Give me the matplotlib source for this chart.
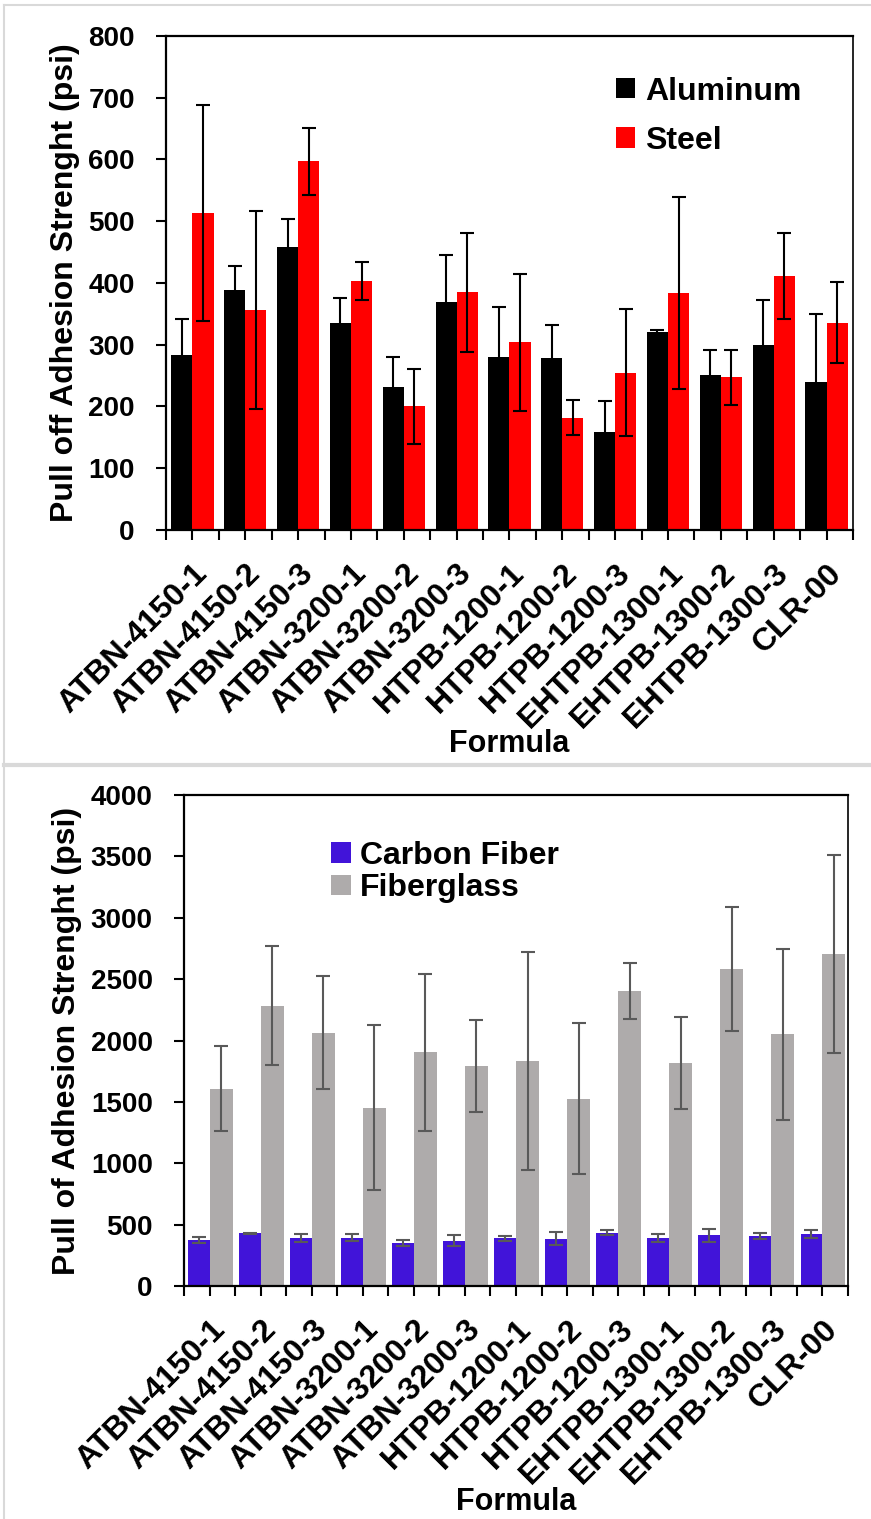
import numpy as np
import matplotlib
matplotlib.use("Agg")
import matplotlib.pyplot as plt
from matplotlib.lines import Line2D

plt.rcParams['font.family'] = ['Liberation Sans', 'DejaVu Sans']
plt.rcParams['font.weight'] = 'bold'

formulas = ['ATBN-4150-1', 'ATBN-4150-2', 'ATBN-4150-3', 'ATBN-3200-1',
            'ATBN-3200-2', 'ATBN-3200-3', 'HTPB-1200-1', 'HTPB-1200-2',
            'HTPB-1200-3', 'EHTPB-1300-1', 'EHTPB-1300-2', 'EHTPB-1300-3',
            'CLR-00']

# metal substrates (psi)
aluminum = [284, 389, 459, 335, 232, 369, 280, 279, 158, 321, 251, 300, 240]
aluminum_err = [57, 39, 44, 41, 48, 76, 81, 53, 51, 3, 40, 73, 109]
steel = [513, 356, 597, 403, 200, 385, 304, 182, 255, 384, 247, 411, 336]
steel_err = [175, 160, 54, 31, 61, 96, 111, 28, 103, 156, 45, 70, 66]

# composite substrates (psi)
carbon_fiber = [375, 429, 388, 394, 353, 369, 388, 386, 434, 394, 415, 407, 424]
carbon_fiber_err = [22, 5, 32, 31, 25, 45, 18, 54, 19, 33, 53, 27, 30]
fiberglass = [1608, 2284, 2064, 1453, 1904, 1792, 1830, 1526, 2406, 1817,
              2585, 2050, 2705]
fiberglass_err = [349, 487, 460, 673, 642, 376, 889, 615, 229, 376, 504, 694, 804]

x = np.arange(len(formulas))

fig = plt.figure(figsize=(8.71, 15.19), dpi=100)
ax1 = fig.add_axes([0.1906, 0.6511, 0.7887, 0.3252])
ax2 = fig.add_axes([0.2113, 0.1534, 0.7623, 0.3232])

# panel frames
frame = '#d9d9d9'
fig.add_artist(Line2D([0.005, 0.005], [0, 0.997], color=frame, lw=1.5,
                      transform=fig.transFigure))
fig.add_artist(Line2D([0.005, 1], [0.997, 0.997], color=frame, lw=1.5,
                      transform=fig.transFigure))
fig.add_artist(Line2D([0.005, 1], [0.4965, 0.4965], color=frame, lw=3,
                      transform=fig.transFigure))

# top chart: aluminum / steel
ax1.bar(x - 0.2, aluminum, 0.4, color='black', label='Aluminum',
        yerr=aluminum_err, error_kw=dict(ecolor='black', elinewidth=1.5,
                                         capsize=5, capthick=1.5))
ax1.bar(x + 0.2, steel, 0.4, color='#ff0000', label='Steel',
        yerr=steel_err, error_kw=dict(ecolor='black', elinewidth=1.5,
                                      capsize=5, capthick=1.5))
ax1.set_ylim(0, 800)
ax1.set_yticks(range(0, 801, 100))
ax1.set_ylabel('Pull off Adhesion Strenght (psi)', fontsize=23,
               fontweight='bold', labelpad=6)
ax1.legend(loc='upper left', bbox_to_anchor=(0.655, 0.918), frameon=False,
           fontsize=23, handlelength=0.6, handleheight=0.6,
           handletextpad=0.3, labelspacing=0.6, borderpad=0,
           borderaxespad=0)
ax1.xaxis.set_label_coords(0.5, -0.403)

# bottom chart: carbon fiber / fiberglass
ax2.bar(x - 0.215, carbon_fiber, 0.43, color='#4114d9', label='Carbon Fiber',
        yerr=carbon_fiber_err, error_kw=dict(ecolor='#595959', elinewidth=1.5,
                                             capsize=5, capthick=1.5))
ax2.bar(x + 0.225, fiberglass, 0.45, color='#aeabab', label='Fiberglass',
        yerr=fiberglass_err, error_kw=dict(ecolor='#595959', elinewidth=1.5,
                                           capsize=5, capthick=1.5))
ax2.set_ylim(0, 4000)
ax2.set_yticks(range(0, 4001, 500))
ax2.set_ylabel('Pull of Adhesion Strenght (psi)', fontsize=23,
               fontweight='bold', labelpad=6)
ax2.legend(loc='upper left', bbox_to_anchor=(0.222, 0.907), frameon=False,
           fontsize=23, handlelength=0.6, handleheight=0.6,
           handletextpad=0.3, labelspacing=0.08, borderpad=0,
           borderaxespad=0)
ax2.xaxis.set_label_coords(0.5, -0.41)

for ax in (ax1, ax2):
    ax.set_xlim(-0.5, len(formulas) - 0.5)
    ax.set_xticks(x)
    ax.set_xticks(np.arange(-0.5, len(formulas), 1.0), minor=True)
    ax.set_xticklabels(formulas, rotation=45, ha='right', va='top',
                       rotation_mode='anchor', fontsize=23, fontweight='bold')
    ax.set_xlabel('Formula', fontsize=22, fontweight='bold')
    ax.tick_params(axis='x', which='both', direction='out', length=7.5,
                   width=1.5, pad=13)
    ax.tick_params(axis='y', direction='out', length=7.5, width=1.5,
                   labelsize=20, pad=15)
    for t in ax.get_yticklabels():
        t.set_fontweight('bold')
    for side in ('left', 'bottom', 'top'):
        ax.spines[side].set_linewidth(1.6)
    ax.spines['right'].set_linewidth(1.2)

fig.savefig('out.png', dpi=100)
